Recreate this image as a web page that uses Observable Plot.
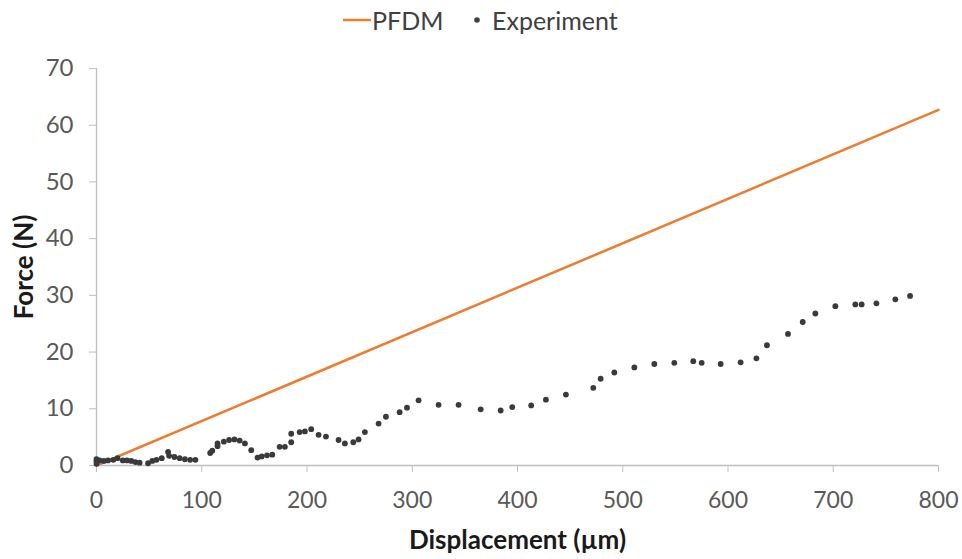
<!DOCTYPE html>
<html>
<head>
<meta charset="utf-8">
<script src="https://cdn.jsdelivr.net/npm/d3@7"></script>
<script src="https://cdn.jsdelivr.net/npm/@observablehq/plot@0.6"></script>
<style>
  body { margin: 0; background: #fff; font-family: Lato, "Open Sans", sans-serif; }
  #wrap { width: 962px; }
  #legend { height: 45px; position: relative; font-size: 25px; color: #404040; }
  #legend .item { position: absolute; top: 5px; display: flex; align-items: center; }
  #chart svg { display: block; }
</style>
</head>
<body>
<div id="wrap">
  <div id="legend">
    <div class="item" style="left:343px">
      <svg width="29" height="26"><line x1="0" y1="13" x2="28" y2="13" stroke="#ED7D31" stroke-width="2.5"/></svg>
      <span>PFDM</span>
    </div>
    <div class="item" style="left:470px">
      <svg width="22" height="26"><circle cx="7" cy="13" r="2.8" fill="#404040"/></svg>
      <span>Experiment</span>
    </div>
  </div>
  <div id="chart"></div>
</div>
<script>
// PFDM model line
const pfdmX = [0, 800];
const pfdmY = [0, 62.7];

// Experiment data (Displacement µm, Force N)
const expX = [0, 0, 0, 3, 7, 11, 16, 20, 25, 29, 33, 37, 41, 49, 53, 57, 62, 68, 69, 74, 79, 84, 89, 94,
  108, 110, 115, 115, 121, 126, 131, 136, 141, 147, 153, 157, 162, 167, 174, 179, 185, 185, 193, 198, 204,
  211, 218, 230, 236, 244, 249, 255, 268, 275, 288, 295, 306, 325, 344, 365, 384, 395, 413, 427, 446,
  472, 479, 492, 511, 530, 549, 567, 575, 593, 612, 627, 637, 657, 671, 683, 702, 721, 727, 741, 759, 773];
const expY = [0.3, 0.7, 1.1, 0.9, 0.8, 0.9, 1.0, 1.3, 0.9, 0.9, 0.8, 0.6, 0.5, 0.4, 0.8, 1.0, 1.3, 2.4, 1.7, 1.5, 1.3, 1.1, 1.0, 1.0,
  2.2, 2.6, 3.4, 3.9, 4.2, 4.5, 4.6, 4.4, 3.9, 2.7, 1.4, 1.6, 1.8, 1.9, 3.3, 3.3, 4.1, 5.6, 5.9, 6.0, 6.4,
  5.4, 5.1, 4.5, 3.9, 4.1, 4.6, 5.9, 7.4, 8.6, 9.4, 10.2, 11.5, 10.7, 10.7, 9.9, 9.7, 10.3, 10.6, 11.6, 12.5,
  13.7, 15.3, 16.4, 17.3, 17.9, 18.1, 18.4, 18.1, 17.9, 18.2, 18.9, 21.2, 23.2, 25.3, 26.8, 28.1, 28.4, 28.4, 28.6, 29.3, 29.9];

const xTicks = [0, 100, 200, 300, 400, 500, 600, 700, 800];
const yTicks = [0, 10, 20, 30, 40, 50, 60, 70];

const pfdm = pfdmX.map((x, i) => ({x, y: pfdmY[i]}));
const exp = expX.map((x, i) => ({x, y: expY[i]}));

const axisColor = "#BFBFBF";
const textColor = "#595959";

const chart = Plot.plot({
  width: 962,
  height: 514,
  marginLeft: 96,
  marginRight: 24,
  marginTop: 23,
  marginBottom: 94,
  style: {fontFamily: "Lato, 'Open Sans', sans-serif", fontSize: "23px", color: textColor, background: "#fff"},
  x: {domain: [0, 800], ticks: xTicks},
  y: {domain: [0, 70], ticks: yTicks},
  marks: [
    Plot.ruleX([0], {stroke: axisColor, strokeWidth: 1.3}),
    Plot.ruleY([0], {stroke: axisColor, strokeWidth: 1.3}),
    Plot.axisX({ticks: xTicks, tickSize: 7, tickPadding: 19, stroke: axisColor, color: textColor, fontSize: 23,
      label: "Displacement (µm)", labelAnchor: "center", labelOffset: 83, labelArrow: "none"}),
    Plot.axisY({ticks: yTicks, tickSize: 7, tickPadding: 16, stroke: axisColor, color: textColor, fontSize: 24,
      label: "Force (N)", labelAnchor: "center", labelOffset: 82, labelArrow: "none"}),
    Plot.line(pfdm, {x: "x", y: "y", stroke: "#ED7D31", strokeWidth: 2.6}),
    Plot.dot(exp, {x: "x", y: "y", r: 2.9, fill: "#3a3a3a", stroke: "none"})
  ]
});

// style axis labels bold and dark
d3.select(chart).selectAll("g[aria-label='x-axis label'] text, g[aria-label='y-axis label'] text")
  .attr("font-weight", "bold").attr("fill", "#1a1a1a").attr("font-size", "26px");
document.getElementById("chart").appendChild(chart);
</script>
</body>
</html>
